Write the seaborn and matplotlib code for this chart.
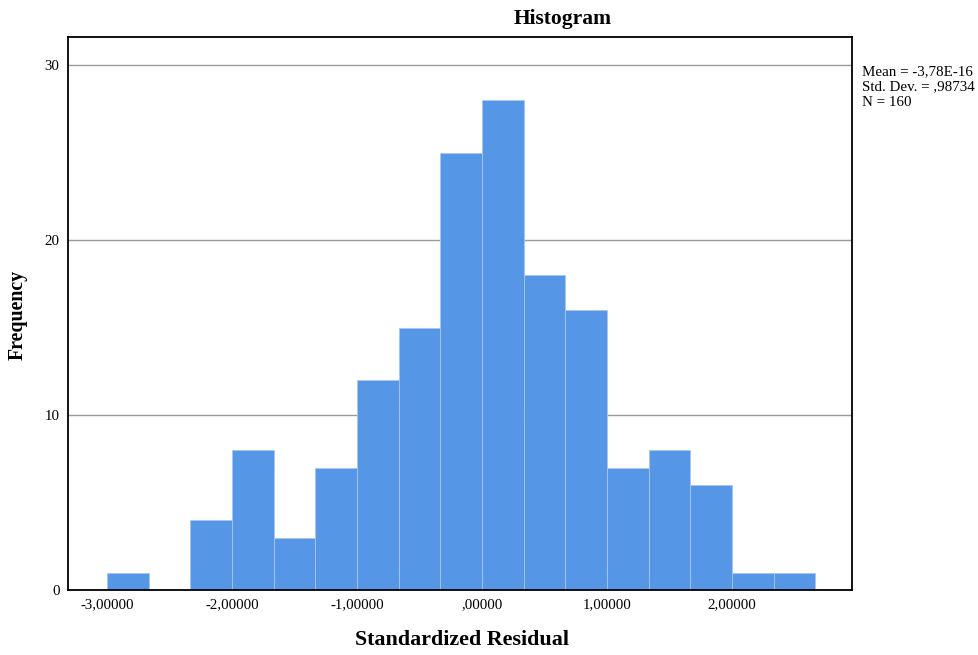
import matplotlib
matplotlib.use("Agg")
import matplotlib.pyplot as plt
import seaborn as sns
import numpy as np
import pandas as pd

# Data
bin_centers = [-2.8333, -2.5, -2.1667, -1.8333, -1.5, -1.1667, -0.8333, -0.5, -0.1667,
               0.1667, 0.5, 0.8333, 1.1667, 1.5, 1.8333, 2.1667, 2.5]
counts = [1, 0, 4, 8, 3, 7, 12, 15, 25, 28, 18, 16, 7, 8, 6, 1, 1]
bin_edges = [-3.0, -2.6667, -2.3333, -2.0, -1.6667, -1.3333, -1.0, -0.6667, -0.3333, 0.0,
             0.3333, 0.6667, 1.0, 1.3333, 1.6667, 2.0, 2.3333, 2.6667]
x_ticks = [-3, -2, -1, 0, 1, 2]
x_tick_labels = ["-3,00000", "-2,00000", "-1,00000", ",00000", "1,00000", "2,00000"]
y_ticks = [0, 10, 20, 30]
stats_lines = ["Mean = -3,78E-16", "Std. Dev. = ,98734", "N = 160"]

sns.set_theme(style="white")
plt.rcParams['font.family'] = ['Liberation Serif', 'DejaVu Serif']
plt.rcParams['text.color'] = 'black'
plt.rcParams['xtick.color'] = 'black'
plt.rcParams['ytick.color'] = 'black'
plt.rcParams['axes.labelcolor'] = 'black'

df = pd.DataFrame({"resid": bin_centers, "count": counts})

fig = plt.figure(figsize=(9.79, 6.55), dpi=100)
ax = fig.add_axes([68/979, 1 - 590/655, (852-68)/979, (590-37)/655])

for y in y_ticks[1:]:
    ax.axhline(y, color="#9a9a9a", lw=1.0, zorder=0)

sns.histplot(data=df, x="resid", weights="count", bins=bin_edges, ax=ax,
             color="#5596e6", alpha=1.0, edgecolor="#a8c6f0", linewidth=0.6, zorder=2)

ax.set_xlim(-3.312, 2.96)
ax.set_ylim(0, 31.6)
ax.set_xticks(x_ticks)
ax.set_xticklabels(x_tick_labels, fontsize=10.7, color="black")
ax.set_yticks(y_ticks)
ax.set_yticklabels([str(v) for v in y_ticks], fontsize=10.7, color="black")
ax.tick_params(axis="both", length=0, pad=6)
ax.set_xlabel("")
ax.set_ylabel("")
for s in ax.spines.values():
    s.set_color("black")
    s.set_linewidth(1.3)
    s.set_visible(True)

fig.text(563/979, 1 - 19/655, "Histogram", ha="center", va="center",
         fontsize=15.5, fontweight="bold", color="black")
fig.text(462/979, 1 - 640/655, "Standardized Residual", ha="center", va="center",
         fontsize=15.8, fontweight="bold", color="black")
fig.text(18/979, 1 - 315/655, "Frequency", ha="center", va="center",
         fontsize=14.3, fontweight="bold", rotation=90, color="black")
for i, line in enumerate(stats_lines):
    fig.text(862/979, 1 - (72 + 15*i)/655, line, ha="left", va="center",
             fontsize=10.8, color="black")

fig.savefig("out.png", dpi=100)
